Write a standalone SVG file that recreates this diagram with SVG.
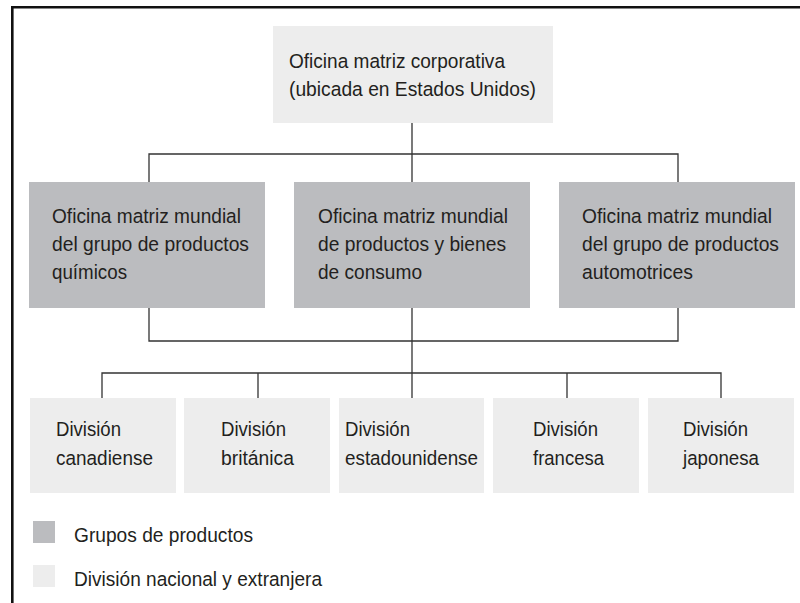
<svg xmlns="http://www.w3.org/2000/svg" width="800" height="603" viewBox="0 0 800 603">
<style>
  .frame { stroke: #111; stroke-width: 2.6; fill: none; }
  .light { fill: #ededed; }
  .dark { fill: #bbbcbf; }
  .conn { stroke: #333; stroke-width: 1.3; fill: none; }
  text { font-family: "Liberation Sans", Arial, sans-serif; font-size: 20.5px; fill: #231f20; }
</style>
<rect width="800" height="603" fill="#ffffff"/>
<path class="frame" d="M12.3,603 V7.3 H800"/>

<g id="connectors">
  <path class="conn" d="M412,123 V182 M149,182 V154 H678 V182"/>
  <path class="conn" d="M149,308 V341 H678 V308 M412,308 V398 M102,398 V373 H721 V398 M258,373 V398 M567,373 V398"/>
</g>

<g id="hq">
  <rect class="light" x="273" y="26" width="280" height="97"/>
  <text x="289" y="68" textLength="216" lengthAdjust="spacingAndGlyphs">Oficina matriz corporativa</text>
  <text x="289" y="96" textLength="247" lengthAdjust="spacingAndGlyphs">(ubicada en Estados Unidos)</text>
</g>

<g id="grp-quimicos">
  <rect class="dark" x="29" y="182" width="236" height="126"/>
  <text x="52" y="223" textLength="189" lengthAdjust="spacingAndGlyphs">Oficina matriz mundial</text>
  <text x="52" y="251" textLength="197" lengthAdjust="spacingAndGlyphs">del grupo de productos</text>
  <text x="52" y="279" textLength="75" lengthAdjust="spacingAndGlyphs">químicos</text>
</g>

<g id="grp-consumo">
  <rect class="dark" x="294" y="182" width="236" height="126"/>
  <text x="318" y="223" textLength="190" lengthAdjust="spacingAndGlyphs">Oficina matriz mundial</text>
  <text x="318" y="251" textLength="188" lengthAdjust="spacingAndGlyphs">de productos y bienes</text>
  <text x="318" y="279" textLength="104" lengthAdjust="spacingAndGlyphs">de consumo</text>
</g>

<g id="grp-automotrices">
  <rect class="dark" x="559" y="182" width="236" height="126"/>
  <text x="582" y="223" textLength="190" lengthAdjust="spacingAndGlyphs">Oficina matriz mundial</text>
  <text x="582" y="251" textLength="197" lengthAdjust="spacingAndGlyphs">del grupo de productos</text>
  <text x="582" y="279" textLength="111" lengthAdjust="spacingAndGlyphs">automotrices</text>
</g>

<g id="div-canadiense">
  <rect class="light" x="30" y="398" width="146" height="95"/>
  <text x="56" y="436" textLength="65" lengthAdjust="spacingAndGlyphs">División</text>
  <text x="56" y="465" textLength="97" lengthAdjust="spacingAndGlyphs">canadiense</text>
</g>

<g id="div-britanica">
  <rect class="light" x="184" y="398" width="146" height="95"/>
  <text x="221" y="436" textLength="65" lengthAdjust="spacingAndGlyphs">División</text>
  <text x="221" y="465" textLength="73" lengthAdjust="spacingAndGlyphs">británica</text>
</g>

<g id="div-estadounidense">
  <rect class="light" x="339" y="398" width="145" height="95"/>
  <text x="345" y="436" textLength="65" lengthAdjust="spacingAndGlyphs">División</text>
  <text x="345" y="465" textLength="133" lengthAdjust="spacingAndGlyphs">estadounidense</text>
</g>

<g id="div-francesa">
  <rect class="light" x="493" y="398" width="146" height="95"/>
  <text x="533" y="436" textLength="65" lengthAdjust="spacingAndGlyphs">División</text>
  <text x="533" y="465" textLength="71" lengthAdjust="spacingAndGlyphs">francesa</text>
</g>

<g id="div-japonesa">
  <rect class="light" x="648" y="398" width="146" height="95"/>
  <text x="683" y="436" textLength="65" lengthAdjust="spacingAndGlyphs">División</text>
  <text x="683" y="465" textLength="76" lengthAdjust="spacingAndGlyphs">japonesa</text>
</g>

<g id="legend">
  <rect class="dark" x="33" y="521" width="22" height="22"/>
  <text x="74" y="542" textLength="179" lengthAdjust="spacingAndGlyphs">Grupos de productos</text>
  <rect class="light" x="33" y="565" width="22" height="22"/>
  <text x="74" y="586" textLength="248" lengthAdjust="spacingAndGlyphs">División nacional y extranjera</text>
</g>
</svg>
